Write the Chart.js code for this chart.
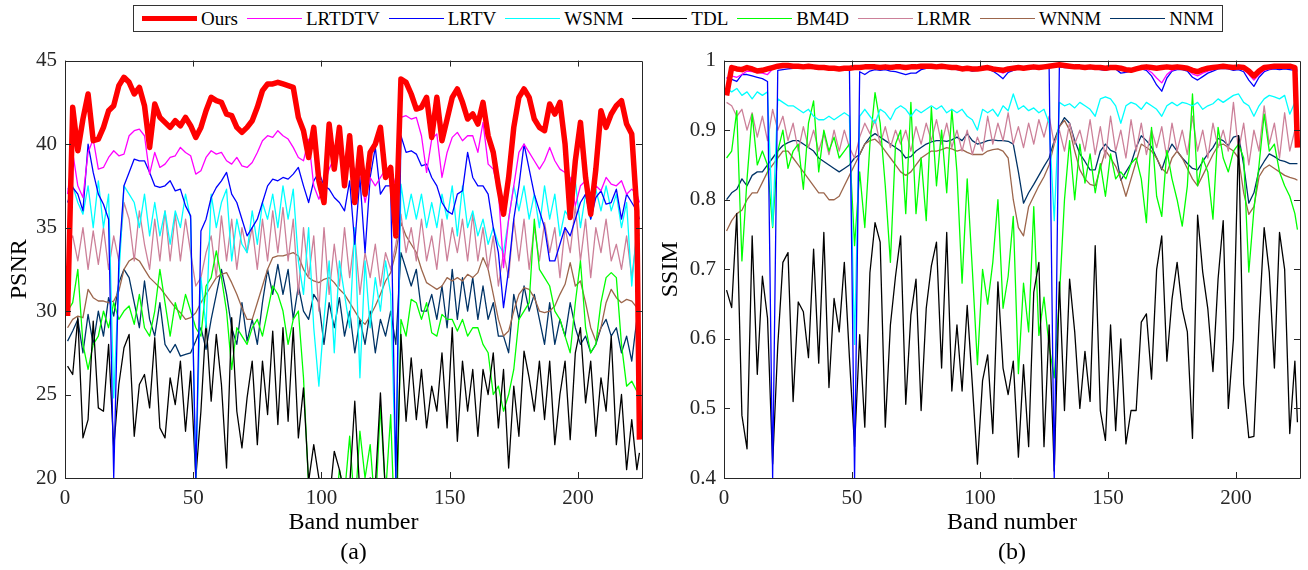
<!DOCTYPE html>
<html>
<head>
<meta charset="utf-8">
<script src="https://cdn.jsdelivr.net/npm/chart.js@4.4.1/dist/chart.umd.min.js"></script>
<style>
  body { margin: 0; width: 1308px; height: 570px; background: #fff; position: relative; overflow: hidden; font-family: "Liberation Serif", "Times New Roman", serif; }
  #legend { position: absolute; left: 133px; top: 5px; height: 27px; border: 1.5px solid #333; box-sizing: border-box;
            display: flex; align-items: center; padding: 0 8px; font-size: 19px; color: #000; background: #fff; }
  .item { display: flex; align-items: center; margin-right: 9px; }
  .item:last-child { margin-right: 0; }
  .swatch { width: 55px; margin-right: 4px; }
  canvas { position: absolute; top: 40px; }
</style>
</head>
<body>
<div id="legend"></div>
<canvas id="psnr" width="660" height="530" style="left:0px"></canvas>
<canvas id="ssim" width="660" height="530" style="left:648px"></canvas>

<script>
// band numbers sampled on odd bands, plus the last band
const bands = [];
for (let b = 1; b <= 223; b += 2) bands.push(b);
bands.push(224);

const methods = ['Ours', 'LRTDTV', 'LRTV', 'WSNM', 'TDL', 'BM4D', 'LRMR', 'WNNM', 'NNM'];
const bandTicks = [0, 50, 100, 150, 200];
const psnrTicks = [20, 25, 30, 35, 40, 45];
const ssimTicks = [0.4, 0.5, 0.6, 0.7, 0.8, 0.9, 1];

// ---- PSNR per band (a) ----
const psnrOurs = [
  29.7, 42.2, 39.6, 41.5, 43.0, 40.2, 40.3, 41.0, 42.0, 42.3,
  43.5, 44.0, 43.7, 43.0, 43.4, 42.3, 39.8, 42.4, 41.6, 41.3,
  41.0, 41.4, 41.1, 41.6, 41.1, 40.4, 41.0, 42.0, 42.8, 42.6,
  42.5, 41.8, 41.7, 41.0, 40.7, 41.0, 41.4, 42.2, 43.2, 43.6,
  43.6, 43.7, 43.6, 43.5, 43.4, 41.6, 40.8, 39.2, 41.0, 37.8,
  36.5, 41.2, 38.5, 41.0, 37.5, 40.5, 36.5, 39.8, 37.0, 39.5,
  40.0, 41.0, 38.0, 38.6, 34.5, 43.9, 43.7, 43.0, 42.1, 42.2,
  42.8, 40.4, 42.8, 40.2, 41.5, 42.8, 43.3, 42.5, 41.5, 41.8,
  41.2, 42.5, 40.5, 39.5, 37.5, 35.8, 38.0, 41.0, 42.8, 43.3,
  42.8, 41.5, 41.0, 40.8, 42.4, 41.8, 42.5, 40.0, 35.6, 39.0,
  41.3, 38.0, 35.8, 38.5, 42.0, 41.0, 41.8, 42.3, 42.6, 41.2,
  40.6, 36.0, 22.3];
const psnrLRTDTV = [
  37.0, 39.5, 37.5, 36.8, 39.5, 40.3, 38.5, 38.6, 39.2, 39.6,
  39.3, 39.4, 40.5, 40.8, 40.9, 40.5, 38.2, 39.5, 38.6, 38.8,
  39.2, 39.3, 39.8, 39.5, 39.3, 38.2, 38.4, 39.2, 39.6, 39.4,
  39.5, 39.0, 38.8, 39.2, 38.7, 38.6, 38.9, 39.5, 40.2, 40.5,
  40.4, 40.8, 40.5, 40.3, 39.8, 39.2, 39.0, 40.3, 37.5, 36.7,
  37.5, 38.5, 39.2, 39.6, 38.5, 39.0, 38.5, 38.5, 36.5, 38.0,
  37.5, 38.0, 38.5, 38.5, 37.5, 41.6, 41.7, 41.5, 41.6, 40.5,
  38.3, 40.3, 40.6, 38.0, 39.5, 40.4, 40.7, 40.2, 40.5, 40.5,
  39.5, 41.3, 38.8, 38.5, 37.2, 32.6, 35.5, 37.5, 39.5, 40.0,
  39.5, 39.0, 38.5, 39.0, 39.8, 39.0, 38.5, 38.3, 38.0, 36.3,
  37.5, 37.8, 36.2, 37.5, 37.2, 38.0, 37.6, 37.5, 37.8, 37.0,
  37.3, 37.0, 36.5];
const psnrLRTV = [
  36.5, 37.4, 37.0, 36.0, 40.0, 38.3, 37.0, 36.4, 35.5, 20.0,
  33.0, 37.5, 38.3, 39.1, 39.0, 39.0, 38.3, 37.5, 37.4, 37.5,
  37.8, 37.2, 37.3, 36.3, 35.7, 20.0, 34.8, 35.5, 36.8, 37.4,
  37.8, 38.3, 37.0, 36.5, 35.5, 34.5, 35.0, 35.5, 36.5, 37.5,
  37.9, 37.8, 38.0, 37.9, 38.2, 38.6, 37.5, 36.5, 37.8, 38.3,
  37.5, 37.3, 36.8, 36.5, 36.0, 37.8, 34.0, 38.0, 33.5, 38.0,
  39.8, 37.0, 37.5, 37.5, 20.0, 40.5, 39.5, 39.6, 39.4, 38.7,
  38.8, 38.0, 37.5, 36.5, 36.0, 35.8, 37.0, 37.2, 39.5, 38.0,
  37.5, 37.5, 37.0, 35.0, 33.5, 30.2, 32.5, 35.5, 37.5, 40.0,
  38.5, 37.0, 36.0, 35.0, 33.0, 33.0, 34.0, 35.0, 34.5, 35.5,
  36.5, 37.0, 35.5, 36.8, 37.2, 36.4, 36.5, 37.3, 35.5, 37.0,
  36.5, 36.0, 35.5];
const psnrWSNM = [
  37.3, 37.5, 36.5, 35.8, 37.5, 35.0, 37.8, 35.0, 37.0, 24.8,
  32.0, 37.5, 37.0, 36.5, 35.0, 37.0, 34.5, 36.5, 34.5, 36.0,
  34.0, 36.0, 35.0, 37.0, 35.5, 20.0, 32.0, 29.0, 37.0, 35.0,
  36.5, 37.3, 33.0, 35.5, 34.0, 33.5, 36.0, 34.0, 36.5, 35.5,
  37.0, 35.0, 37.5, 35.5, 37.3, 33.0, 31.0, 35.0, 29.0, 25.5,
  29.5, 33.0, 27.5, 33.0, 31.0, 29.0, 35.0, 26.0, 33.0, 29.0,
  32.0, 30.0, 33.0, 31.0, 20.0, 37.6, 35.5, 37.0, 35.5, 37.0,
  35.0, 36.5, 35.0, 37.0, 35.5, 37.5, 34.5, 37.5, 35.0, 36.0,
  34.5, 35.5, 34.0, 35.0, 34.0, 33.5, 35.5, 37.5, 36.0, 37.5,
  35.5, 37.0, 35.0, 37.5, 35.5, 37.0, 34.5, 36.0, 35.5, 37.8,
  35.0, 37.0, 35.5, 37.3, 36.0, 37.5, 36.0, 37.0, 35.0, 36.5,
  31.5, 35.0, 34.5];
const psnrTDL = [
  26.7, 26.2, 29.6, 22.4, 23.5, 29.4, 24.2, 24.0, 28.0, 21.8,
  25.6, 27.8, 28.6, 22.5, 25.6, 26.2, 24.2, 28.4, 23.0, 22.4,
  26.0, 24.4, 27.0, 22.8, 26.4, 20.0, 24.0, 29.4, 24.6, 28.6,
  25.6, 20.6, 29.6, 24.0, 21.8, 24.8, 27.0, 22.0, 27.0, 23.8,
  28.8, 23.2, 29.0, 23.4, 29.0, 22.4, 25.4, 19.8, 22.0, 20.0,
  19.0, 18.5, 21.6, 20.5, 19.0, 19.5, 24.6, 19.0, 18.8, 20.0,
  19.5, 25.1, 19.0, 18.0, 17.5, 28.6, 23.4, 27.2, 23.5, 26.5,
  23.0, 25.5, 24.0, 27.5, 23.0, 29.0, 22.2, 27.0, 24.0, 26.5,
  22.5, 26.5, 25.0, 27.5, 23.0, 26.5, 20.6, 25.5, 22.5, 27.6,
  26.0, 24.0, 27.0, 23.5, 27.0, 22.0, 25.0, 27.0, 22.3, 27.5,
  29.0, 24.5, 27.0, 22.5, 26.0, 24.0, 28.5, 22.0, 25.0, 20.5,
  23.5, 20.5, 21.5];
const psnrBM4D = [
  30.0, 30.5, 32.5, 28.0, 26.5, 28.0, 28.5, 30.0, 29.0, 30.5,
  29.5, 30.0, 30.3, 29.2, 31.0, 29.0, 28.5, 30.0, 32.5, 30.5,
  28.5, 30.5, 29.5, 31.0, 30.0, 29.0, 28.5, 31.5, 32.0, 33.6,
  32.0, 30.0, 26.5, 29.0, 28.5, 28.0, 29.0, 29.5, 28.5, 30.0,
  31.5, 31.0, 30.0, 28.0, 29.5, 30.0, 26.0, 19.5, 18.0, 18.0,
  18.5, 19.5, 17.0, 20.5, 19.0, 22.5, 18.0, 22.8, 20.0, 22.0,
  18.0, 24.3, 19.0, 23.8, 15.0, 29.5, 28.5, 30.7, 30.5, 29.5,
  30.5, 28.7, 28.5, 29.8, 29.5, 29.5, 28.8, 29.5, 28.5, 29.0,
  29.0, 28.0, 27.5, 25.0, 25.5, 24.0, 25.0, 26.5, 29.5, 30.0,
  30.5, 35.5, 32.5, 32.0, 31.5, 30.0, 29.5, 28.5, 27.5, 30.5,
  33.0, 29.0, 27.5, 28.0, 30.5, 32.0, 32.3, 32.0, 28.0, 25.5,
  25.8, 25.2, 25.5];
const psnrLRMR = [
  34.2, 34.5, 33.0, 35.0, 32.5, 34.8, 32.8, 35.0, 32.5, 34.5,
  33.0, 36.5, 35.5, 33.0, 36.0, 34.0, 32.5, 35.5, 33.0, 36.0,
  33.0, 35.8, 33.0, 35.5, 33.5, 31.5, 32.0, 33.5, 34.5, 32.0,
  35.7, 33.0, 35.5, 32.5, 35.0, 33.5, 35.0, 32.5, 35.5, 33.0,
  36.0, 33.5, 36.2, 33.0, 35.5, 31.0, 35.0, 32.0, 34.5, 30.0,
  35.0, 31.0, 34.0, 31.5, 35.0, 32.0, 34.5, 31.0, 33.5, 32.0,
  34.0, 31.5, 33.5, 32.5, 34.0, 35.8, 33.5, 35.0, 33.0, 35.5,
  33.0, 34.5, 32.5, 35.5, 33.0, 35.0, 33.5, 35.5, 33.0, 35.8,
  33.0, 35.0, 32.5, 34.5, 31.5, 33.5, 32.0, 35.5, 33.0, 35.5,
  32.5, 35.0, 33.0, 35.3, 33.5, 35.0, 32.0, 35.0, 33.5, 36.3,
  33.0, 35.5, 32.0, 35.0, 33.5, 35.5, 33.0, 34.0, 32.5, 34.5,
  32.0, 34.5, 33.5];
const psnrWNNM = [
  29.0, 29.5, 29.7, 29.6, 31.3, 30.8, 30.6, 30.6, 30.5, 30.6,
  31.2, 32.5, 33.0, 33.2, 33.0, 32.5, 32.0, 31.7, 31.4, 31.0,
  30.6, 30.2, 29.9, 29.5, 29.6, 29.9, 30.5, 31.0, 31.5, 32.0,
  32.2, 32.3, 31.7, 31.0, 30.2, 29.5, 29.5, 30.5, 31.5, 32.5,
  33.2, 33.3, 33.3, 33.4, 33.5, 33.3, 32.5, 32.0, 31.8, 31.7,
  31.9, 32.0, 31.7, 31.3, 31.0, 30.5, 30.0, 29.5, 29.2, 29.7,
  30.3, 31.0, 31.8, 32.3, 33.5, 35.3, 34.5, 34.0, 33.5, 32.5,
  31.7, 31.5, 31.3, 31.5, 32.0, 31.8, 32.0, 31.8, 32.2, 32.0,
  32.3, 33.2, 32.5, 31.0, 29.5, 28.5, 28.8, 30.0, 31.0, 31.4,
  31.3, 30.8, 30.0, 29.9, 30.0, 30.3, 31.0, 31.6, 32.9, 31.5,
  31.8, 30.5, 29.0, 28.2, 29.0, 30.5, 31.3, 30.8, 30.5, 30.7,
  30.6, 30.2, 30.0];
const psnrNNM = [
  28.2, 28.8, 29.5, 27.5, 29.8, 28.0, 30.0, 28.5, 30.8, 29.7,
  31.7, 32.5, 32.0, 30.5, 29.0, 31.8, 29.5, 28.5, 30.5, 28.0,
  27.5, 28.0, 27.3, 27.4, 27.5, 28.2, 29.0, 27.7, 29.5, 31.0,
  32.5, 31.0, 29.0, 28.0, 30.5, 28.2, 29.5, 28.0, 30.5, 32.5,
  31.0, 32.8, 31.0, 32.5, 29.5, 31.5, 30.0, 29.5, 31.0, 30.5,
  28.0, 30.5, 29.0, 30.8, 28.5, 30.0, 27.5, 29.5, 28.0, 30.0,
  27.5, 29.5, 28.5, 30.0, 28.0, 33.5, 32.5, 31.5, 32.5, 30.0,
  30.0, 31.0, 29.5, 31.5, 29.0, 32.5, 29.5, 32.0, 30.0, 32.0,
  29.5, 31.5, 29.5, 30.5, 28.5, 28.5, 27.5, 31.0, 29.5, 31.5,
  30.0, 31.0, 29.5, 28.0, 30.5, 28.0, 29.5, 28.5, 30.5, 29.0,
  28.0, 28.5, 27.5, 28.0, 29.0, 29.5, 28.5, 29.0, 27.5, 28.5,
  27.0, 29.5, 28.0];

// ---- SSIM per band (b) ----
const ssimOurs = [
  0.950, 0.990, 0.988, 0.987, 0.990, 0.988, 0.985, 0.986, 0.988, 0.990,
  0.992, 0.993, 0.993, 0.992, 0.992, 0.991, 0.992, 0.991, 0.990, 0.990,
  0.989, 0.989, 0.988, 0.989, 0.989, 0.990, 0.990, 0.991, 0.991, 0.991,
  0.990, 0.991, 0.990, 0.991, 0.991, 0.990, 0.991, 0.991, 0.992, 0.992,
  0.992, 0.991, 0.992, 0.991, 0.990, 0.990, 0.988, 0.989, 0.988, 0.988,
  0.989, 0.990, 0.988, 0.987, 0.986, 0.988, 0.989, 0.990, 0.989, 0.990,
  0.991, 0.990, 0.991, 0.992, 0.993, 0.994, 0.993, 0.992, 0.991, 0.991,
  0.990, 0.991, 0.990, 0.990, 0.989, 0.990, 0.990, 0.989, 0.987, 0.986,
  0.988, 0.990, 0.991, 0.990, 0.989, 0.990, 0.991, 0.990, 0.991, 0.990,
  0.989, 0.986, 0.984, 0.987, 0.989, 0.990, 0.991, 0.992, 0.991, 0.990,
  0.991, 0.990, 0.985, 0.978, 0.985, 0.990, 0.991, 0.992, 0.992, 0.992,
  0.992, 0.990, 0.875];
const ssimLRTDTV = [
  0.975, 0.978, 0.976, 0.980, 0.985, 0.984, 0.983, 0.982, 0.980, 0.988,
  0.990, 0.990, 0.991, 0.990, 0.990, 0.989, 0.990, 0.989, 0.988, 0.988,
  0.987, 0.987, 0.986, 0.987, 0.988, 0.989, 0.989, 0.990, 0.990, 0.990,
  0.989, 0.990, 0.989, 0.990, 0.989, 0.988, 0.989, 0.990, 0.990, 0.991,
  0.991, 0.990, 0.991, 0.990, 0.989, 0.988, 0.987, 0.988, 0.987, 0.987,
  0.988, 0.989, 0.987, 0.985, 0.982, 0.986, 0.988, 0.989, 0.988, 0.989,
  0.990, 0.989, 0.990, 0.991, 0.991, 0.992, 0.991, 0.991, 0.990, 0.990,
  0.989, 0.990, 0.989, 0.989, 0.988, 0.989, 0.989, 0.987, 0.984, 0.985,
  0.987, 0.989, 0.988, 0.983, 0.975, 0.968, 0.980, 0.986, 0.988, 0.988,
  0.987, 0.981, 0.978, 0.982, 0.985, 0.987, 0.989, 0.990, 0.989, 0.988,
  0.989, 0.987, 0.980, 0.972, 0.980, 0.986, 0.988, 0.989, 0.989, 0.989,
  0.989, 0.988, 0.987];
const ssimLRTV = [
  0.975, 0.973, 0.970, 0.980, 0.980, 0.978, 0.976, 0.974, 0.970, 0.400,
  0.986, 0.987, 0.988, 0.989, 0.989, 0.989, 0.990, 0.989, 0.988, 0.988,
  0.987, 0.986, 0.986, 0.987, 0.987, 0.400, 0.984, 0.980, 0.985, 0.987,
  0.986, 0.987, 0.985, 0.984, 0.982, 0.980, 0.982, 0.982, 0.987, 0.989,
  0.990, 0.990, 0.990, 0.989, 0.988, 0.987, 0.986, 0.987, 0.985, 0.986,
  0.987, 0.988, 0.985, 0.980, 0.974, 0.983, 0.986, 0.988, 0.987, 0.988,
  0.989, 0.988, 0.989, 0.990, 0.400, 0.991, 0.990, 0.990, 0.989, 0.989,
  0.988, 0.989, 0.988, 0.987, 0.986, 0.988, 0.988, 0.982, 0.983, 0.985,
  0.986, 0.988, 0.986, 0.978, 0.965, 0.956, 0.975, 0.985, 0.987, 0.987,
  0.985, 0.976, 0.972, 0.977, 0.982, 0.985, 0.988, 0.989, 0.988, 0.986,
  0.987, 0.984, 0.972, 0.963, 0.976, 0.984, 0.987, 0.988, 0.987, 0.988,
  0.987, 0.986, 0.985];
const ssimWSNM = [
  0.960, 0.955, 0.960, 0.950, 0.955, 0.945, 0.955, 0.950, 0.955, 0.762,
  0.945, 0.940, 0.935, 0.935, 0.930, 0.925, 0.930, 0.920, 0.915, 0.915,
  0.920, 0.915, 0.920, 0.925, 0.920, 0.592, 0.920, 0.930, 0.920, 0.910,
  0.930, 0.925, 0.915, 0.930, 0.935, 0.930, 0.920, 0.930, 0.925, 0.930,
  0.935, 0.930, 0.935, 0.925, 0.930, 0.925, 0.930, 0.920, 0.915, 0.900,
  0.930, 0.925, 0.930, 0.920, 0.935, 0.928, 0.952, 0.930, 0.935, 0.928,
  0.932, 0.925, 0.930, 0.910, 0.770, 0.940, 0.935, 0.938, 0.932, 0.940,
  0.935, 0.930, 0.920, 0.945, 0.948, 0.945, 0.935, 0.910, 0.935, 0.940,
  0.937, 0.930, 0.940, 0.935, 0.930, 0.920, 0.935, 0.940, 0.935, 0.940,
  0.938, 0.935, 0.940, 0.930, 0.935, 0.938, 0.945, 0.940, 0.945, 0.950,
  0.952, 0.940, 0.935, 0.920, 0.935, 0.945, 0.950, 0.948, 0.945, 0.950,
  0.923, 0.940, 0.950];
const ssimTDL = [
  0.670, 0.645, 0.780, 0.490, 0.442, 0.748, 0.549, 0.690, 0.630, 0.420,
  0.590, 0.710, 0.724, 0.510, 0.653, 0.639, 0.573, 0.729, 0.565, 0.753,
  0.530, 0.658, 0.610, 0.710, 0.573, 0.445, 0.606, 0.473, 0.695, 0.767,
  0.739, 0.473, 0.620, 0.690, 0.748, 0.506, 0.634, 0.686, 0.497, 0.644,
  0.705, 0.739, 0.558, 0.753, 0.525, 0.620, 0.525, 0.648, 0.535, 0.420,
  0.540, 0.577, 0.464, 0.682, 0.558, 0.520, 0.568, 0.430, 0.563, 0.445,
  0.667, 0.710, 0.445, 0.620, 0.410, 0.682, 0.497, 0.686, 0.610, 0.500,
  0.582, 0.510, 0.734, 0.497, 0.454, 0.620, 0.468, 0.600, 0.449, 0.497,
  0.497, 0.624, 0.636, 0.542, 0.700, 0.748, 0.568, 0.657, 0.710, 0.643,
  0.610, 0.457, 0.778, 0.696, 0.643, 0.553, 0.686, 0.770, 0.500, 0.600,
  0.892, 0.535, 0.458, 0.460, 0.624, 0.760, 0.696, 0.558, 0.753, 0.700,
  0.464, 0.568, 0.480];
const ssimBM4D = [
  0.860, 0.870, 0.928, 0.712, 0.830, 0.923, 0.850, 0.870, 0.850, 0.760,
  0.870, 0.900, 0.845, 0.870, 0.880, 0.815, 0.910, 0.942, 0.840, 0.900,
  0.870, 0.890, 0.860, 0.870, 0.880, 0.734, 0.840, 0.760, 0.880, 0.954,
  0.910, 0.820, 0.710, 0.880, 0.900, 0.780, 0.940, 0.780, 0.860, 0.770,
  0.933, 0.820, 0.900, 0.810, 0.930, 0.840, 0.680, 0.830, 0.700, 0.563,
  0.700, 0.650, 0.710, 0.800, 0.644, 0.690, 0.776, 0.550, 0.680, 0.610,
  0.790, 0.605, 0.660, 0.590, 0.544, 0.660, 0.800, 0.885, 0.800, 0.880,
  0.824, 0.866, 0.810, 0.852, 0.805, 0.866, 0.830, 0.840, 0.830, 0.852,
  0.860, 0.830, 0.767, 0.904, 0.805, 0.776, 0.871, 0.830, 0.800, 0.762,
  0.820, 0.952, 0.820, 0.860, 0.840, 0.772, 0.904, 0.860, 0.840, 0.870,
  0.880, 0.860, 0.696, 0.786, 0.850, 0.923, 0.870, 0.880, 0.840, 0.820,
  0.805, 0.780, 0.757];
const ssimLRMR = [
  0.940, 0.935, 0.920, 0.930, 0.900, 0.925, 0.890, 0.920, 0.885, 0.930,
  0.900, 0.920, 0.885, 0.910, 0.870, 0.905, 0.875, 0.900, 0.870, 0.895,
  0.865, 0.900, 0.870, 0.900, 0.875, 0.860, 0.890, 0.910, 0.895, 0.915,
  0.880, 0.905, 0.875, 0.900, 0.880, 0.900, 0.870, 0.905, 0.880, 0.910,
  0.885, 0.915, 0.880, 0.910, 0.875, 0.900, 0.870, 0.900, 0.865, 0.890,
  0.870, 0.920, 0.880, 0.910, 0.885, 0.925, 0.880, 0.905, 0.875, 0.910,
  0.880, 0.915, 0.890, 0.920, 0.880, 0.900, 0.870, 0.910, 0.880, 0.900,
  0.870, 0.915, 0.865, 0.905, 0.860, 0.920, 0.870, 0.900, 0.860, 0.915,
  0.870, 0.910, 0.865, 0.900, 0.875, 0.905, 0.860, 0.910, 0.870, 0.900,
  0.865, 0.920, 0.870, 0.900, 0.860, 0.910, 0.875, 0.900, 0.870, 0.940,
  0.870, 0.910, 0.850, 0.900, 0.870, 0.935, 0.880, 0.910, 0.860, 0.925,
  0.870, 0.900, 0.910];
const ssimWNNM = [
  0.755, 0.770, 0.780, 0.785, 0.800, 0.810, 0.810, 0.825, 0.840, 0.850,
  0.860, 0.870, 0.870, 0.860, 0.850, 0.840, 0.830, 0.820, 0.810, 0.810,
  0.800, 0.800, 0.805, 0.820, 0.835, 0.850, 0.865, 0.880, 0.885, 0.887,
  0.880, 0.870, 0.860, 0.850, 0.840, 0.835, 0.840, 0.850, 0.860, 0.865,
  0.870, 0.870, 0.872, 0.875, 0.873, 0.870, 0.872, 0.868, 0.865, 0.865,
  0.865, 0.870, 0.872, 0.873, 0.870, 0.860, 0.800, 0.760, 0.748, 0.790,
  0.805, 0.820, 0.833, 0.850, 0.880, 0.905, 0.914, 0.900, 0.870, 0.843,
  0.830, 0.822, 0.820, 0.845, 0.871, 0.860, 0.848, 0.830, 0.805, 0.830,
  0.855, 0.880, 0.875, 0.870, 0.860, 0.845, 0.838, 0.860, 0.870, 0.860,
  0.845, 0.830, 0.820, 0.835, 0.850, 0.865, 0.878, 0.880, 0.875, 0.870,
  0.860, 0.810, 0.779, 0.790, 0.833, 0.845, 0.850, 0.845, 0.840, 0.835,
  0.832, 0.830, 0.828];
const ssimNNM = [
  0.800, 0.810, 0.815, 0.830, 0.820, 0.835, 0.840, 0.840, 0.850, 0.860,
  0.870, 0.878, 0.882, 0.885, 0.885, 0.880, 0.875, 0.870, 0.860, 0.855,
  0.850, 0.845, 0.840, 0.845, 0.850, 0.860, 0.865, 0.880, 0.890, 0.895,
  0.890, 0.885, 0.880, 0.875, 0.870, 0.860, 0.862, 0.870, 0.875, 0.880,
  0.883, 0.885, 0.885, 0.884, 0.886, 0.890, 0.885, 0.895, 0.885, 0.880,
  0.882, 0.885, 0.886, 0.885, 0.885, 0.884, 0.880, 0.840, 0.795, 0.810,
  0.822, 0.835, 0.848, 0.860, 0.885, 0.905, 0.918, 0.910, 0.885, 0.866,
  0.855, 0.843, 0.843, 0.870, 0.880, 0.871, 0.868, 0.828, 0.840, 0.852,
  0.875, 0.892, 0.885, 0.876, 0.860, 0.843, 0.865, 0.880, 0.870, 0.860,
  0.852, 0.845, 0.843, 0.855, 0.866, 0.875, 0.888, 0.885, 0.878, 0.890,
  0.892, 0.850, 0.795, 0.810, 0.843, 0.855, 0.866, 0.862, 0.857, 0.855,
  0.852, 0.852, 0.852];

const colors = ['#ff0000', '#ff00ff', '#0000ff', '#00ffff', '#000000', '#00ff00', '#cc8099', '#9c664c', '#003366'];
const widths = [5.5, 1.3, 1.3, 1.3, 1.3, 1.3, 1.3, 1.3, 1.3];
const FONT = '"Liberation Serif", "Times New Roman", serif';

// legend across both panels
const legendEl = document.getElementById('legend');
methods.forEach((m, i) => {
  const item = document.createElement('div');
  item.className = 'item';
  const sw = document.createElement('span');
  sw.className = 'swatch';
  sw.style.borderTop = Math.min(widths[i], 5) + 'px solid ' + colors[i];
  const txt = document.createElement('span');
  txt.textContent = m;
  item.appendChild(sw);
  item.appendChild(txt);
  legendEl.appendChild(item);
});

// matlab style box with inward ticks
const boxPlugin = {
  id: 'matlabBox',
  afterDatasetsDraw(chart) {
    const { ctx, chartArea: a, scales: { x, y } } = chart;
    const t = 6;
    ctx.save();
    ctx.strokeStyle = '#262626';
    ctx.lineWidth = 1;
    ctx.beginPath();
    ctx.rect(Math.round(a.left) + 0.5, Math.round(a.top) + 0.5, Math.round(a.right - a.left), Math.round(a.bottom - a.top));
    x.ticks.forEach(tk => {
      const px = Math.round(x.getPixelForValue(tk.value)) + 0.5;
      ctx.moveTo(px, a.bottom); ctx.lineTo(px, a.bottom - t);
      ctx.moveTo(px, a.top); ctx.lineTo(px, a.top + t);
    });
    y.ticks.forEach(tk => {
      const py = Math.round(y.getPixelForValue(tk.value)) + 0.5;
      ctx.moveTo(a.left, py); ctx.lineTo(a.left + t, py);
      ctx.moveTo(a.right, py); ctx.lineTo(a.right - t, py);
    });
    ctx.stroke();
    ctx.restore();
  }
};

function makePanel(id, series, yMin, yMax, yTicks, yTitle, caption, yWidth, titlePad, padRight) {
  const datasets = series.map((vals, i) => ({
    label: methods[i],
    data: bands.map((b, k) => ({ x: b, y: vals[k] })),
    borderColor: colors[i],
    borderWidth: widths[i],
    borderJoinStyle: 'round',
    pointRadius: 0,
    fill: false,
    tension: 0
  }));
  return new Chart(document.getElementById(id), {
    type: 'line',
    data: { datasets },
    options: {
      responsive: false,
      animation: false,
      devicePixelRatio: 1,
      events: [],
      layout: { padding: { top: 17, right: padRight, left: 0, bottom: 0 } },
      plugins: { legend: { display: false }, tooltip: { enabled: false } },
      scales: {
        x: {
          type: 'linear', min: 0, max: 225,
          grid: { display: false, drawTicks: false },
          border: { display: false },
          afterBuildTicks: s => { s.ticks = bandTicks.map(v => ({ value: v })); },
          afterFit: s => { s.height = 92; },
          ticks: { font: { family: FONT, size: 21 }, color: '#262626', padding: 8, maxRotation: 0,
                   callback: v => String(v) },
          title: { display: true, text: ['Band number', caption], color: '#000',
                   font: { family: FONT, size: 24, lineHeight: 1.25 }, padding: { top: 0, bottom: 2 } }
        },
        y: {
          type: 'linear', min: yMin, max: yMax,
          grid: { display: false, drawTicks: false },
          border: { display: false },
          afterBuildTicks: s => { s.ticks = yTicks.map(v => ({ value: v })); },
          afterFit: s => { s.width = yWidth; },
          ticks: { font: { family: FONT, size: 21 }, color: '#262626', padding: 8,
                   callback: v => String(v) },
          title: { display: true, text: yTitle, color: '#000',
                   font: { family: FONT, size: 24, lineHeight: 1.25 }, padding: { top: titlePad, bottom: 0 } }
        }
      }
    },
    plugins: [boxPlugin]
  });
}

makePanel('psnr',
  [psnrOurs, psnrLRTDTV, psnrLRTV, psnrWSNM, psnrTDL, psnrBM4D, psnrLRMR, psnrWNNM, psnrNNM],
  20, 45, psnrTicks, 'PSNR', '(a)', 65, 4.5, 18);
makePanel('ssim',
  [ssimOurs, ssimLRTDTV, ssimLRTV, ssimWSNM, ssimTDL, ssimBM4D, ssimLRMR, ssimWNNM, ssimNNM],
  0.4, 1, ssimTicks, 'SSIM', '(b)', 76, 8, 8);
</script>
</body>
</html>
